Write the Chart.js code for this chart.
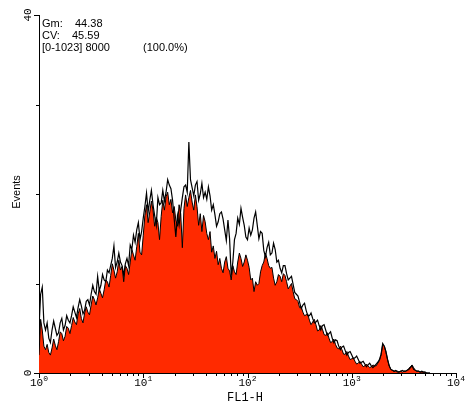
<!DOCTYPE html>
<html>
<head>
<meta charset="utf-8">
<script src="https://cdn.jsdelivr.net/npm/chart.js@4.4.0/dist/chart.umd.min.js"></script>
<style>
    body { margin: 0; background: #fff; }
    canvas { display: block; }
</style>
</head>
<body>
<canvas id="histChart" width="469" height="408"></canvas>
<script>
// FL1-H channel positions (0-1023 range, 256 channels per decade)
const channels = [
    0, 4, 8, 12, 16, 20, 24, 28, 32, 36,
    40, 44, 48, 52, 56, 60, 64, 68, 72, 76,
    80, 84, 88, 92, 96, 100, 104, 108, 112, 116,
    120, 124, 128, 132, 136, 140, 144, 148, 152, 156,
    160, 164, 168, 172, 176, 180, 184, 188, 192, 196,
    200, 204, 208, 212, 216, 220, 224, 228, 232, 236,
    240, 244, 248, 252, 256, 260, 264, 268, 272, 276,
    280, 284, 288, 292, 296, 300, 304, 308, 312, 316,
    320, 324, 328, 332, 336, 340, 344, 348, 352, 356,
    360, 364, 368, 372, 376, 380, 384, 388, 392, 396,
    400, 404, 408, 412, 416, 420, 424, 428, 432, 436,
    440, 444, 448, 452, 456, 460, 464, 468, 472, 476,
    480, 484, 488, 492, 496, 500, 504, 508, 512, 516,
    520, 524, 528, 532, 536, 540, 544, 548, 552, 556,
    560, 564, 568, 572, 576, 580, 584, 588, 592, 596,
    600, 604, 608, 612, 616, 620, 624, 628, 632, 636,
    640, 644, 648, 652, 656, 660, 664, 668, 672, 676,
    680, 684, 688, 692, 696, 700, 704, 708, 712, 716,
    720, 724, 728, 732, 736, 740, 744, 748, 752, 756,
    760, 764, 768, 772, 776, 780, 784, 788, 792, 796,
    800, 804, 808, 812, 816, 820, 824, 828, 832, 836,
    840, 844, 848, 852, 856, 860, 864, 868, 872, 876,
    880, 884, 888, 892, 896, 900, 904, 908, 912, 916,
    920, 924, 928, 932, 936, 940, 944, 948, 952, 956,
    960
];

// Filled (red) histogram, events per channel
const filledCounts = [
    2.0, 6.0, 4.8, 3.0, 2.6, 3.2, 2.3, 2.0, 2.8, 3.8,
    3.1, 2.6, 3.5, 4.6, 4.4, 3.6, 4.1, 5.2, 5.0, 4.4,
    5.3, 6.2, 5.7, 5.4, 6.6, 7.2, 6.1, 5.6, 6.7, 7.4,
    6.8, 6.5, 7.6, 8.6, 8.2, 7.6, 8.4, 9.4, 8.9, 8.4,
    9.3, 10.4, 10.2, 9.6, 10.9, 12.2, 11.5, 10.6, 11.3, 12.6,
    11.5, 11.9, 10.2, 12.0, 11.7, 11.0, 12.4, 13.8, 13.2, 12.6,
    14.1, 15.6, 13.5, 13.2, 15.4, 17.6, 18.8, 16.8, 18.0, 19.2,
    18.2, 16.4, 17.4, 16.8, 14.9, 17.5, 19.3, 18.2, 19.7, 20.2,
    18.8, 19.4, 17.9, 18.6, 17.1, 16.4, 18.8, 17.8, 14.0, 18.4,
    19.9, 18.6, 19.6, 20.4, 19.1, 18.2, 19.9, 18.6, 16.5, 17.8,
    15.8, 17.6, 16.9, 15.6, 14.9, 15.8, 13.5, 14.2, 12.8, 13.6,
    12.1, 12.8, 11.7, 11.2, 12.4, 13.0, 11.7, 11.4, 10.4, 12.0,
    11.3, 11.0, 12.4, 13.4, 12.8, 11.9, 12.4, 13.2, 12.6, 11.8,
    10.4, 10.6, 9.1, 10.2, 9.8, 10.0, 11.3, 12.0, 12.4, 13.4,
    12.8, 12.0, 11.7, 11.8, 10.6, 9.8, 10.2, 11.0, 10.8, 10.2,
    11.1, 10.9, 10.2, 9.4, 9.7, 10.0, 9.1, 8.3, 8.2, 8.0,
    7.3, 7.4, 6.8, 6.4, 6.5, 6.6, 5.9, 5.4, 5.7, 6.0,
    5.4, 4.7, 4.8, 5.3, 4.9, 4.3, 4.2, 4.5, 3.9, 3.4,
    3.5, 3.8, 3.2, 2.8, 2.7, 3.0, 2.6, 2.1, 2.1, 2.4,
    1.9, 1.5, 1.6, 1.7, 1.3, 1.0, 1.1, 1.3, 1.0, 0.7,
    0.8, 1.0, 0.8, 0.6, 0.7, 0.9, 0.8, 0.8, 1.1, 1.4,
    2.0, 3.2, 3.0, 2.3, 1.5, 0.8, 0.4, 0.3, 0.2, 0.2,
    0.1, 0.1, 0.2, 0.1, 0.2, 0.2, 0.3, 0.5, 0.7, 0.9,
    0.6, 0.3, 0.2, 0.2, 0.1, 0.1, 0.1, 0.1, 0, 0,
    0
];

// Overlay (black outline) histogram
const overlayCounts = [
    5.0, 8.8, 9.6, 5.6, 4.8, 5.6, 3.9, 3.4, 4.8, 5.8,
    5.0, 4.2, 4.5, 5.6, 6.1, 4.8, 5.3, 6.4, 5.9, 5.6,
    6.4, 7.4, 6.8, 6.2, 7.3, 8.2, 7.5, 6.6, 7.0, 8.0,
    8.2, 7.6, 8.8, 9.8, 9.1, 8.8, 10.8, 9.2, 9.8, 11.0,
    10.4, 10.2, 11.5, 11.2, 12.0, 12.8, 14.2, 11.8, 12.4, 13.4,
    12.4, 12.0, 10.9, 12.2, 12.8, 12.0, 14.3, 13.8, 15.4, 14.6,
    16.0, 16.8, 14.9, 15.8, 17.3, 18.6, 20.1, 18.0, 19.3, 20.4,
    18.8, 17.6, 16.5, 19.6, 18.8, 19.0, 20.4, 19.2, 20.2, 21.6,
    21.0, 20.6, 19.3, 17.2, 15.2, 17.6, 16.5, 18.2, 19.6, 20.8,
    21.0, 20.2, 25.8, 21.6, 20.7, 19.8, 21.0, 21.4, 19.3, 20.0,
    21.2, 19.6, 20.2, 19.4, 20.8, 19.8, 18.2, 18.8, 17.7, 16.4,
    16.9, 17.8, 18.0, 17.2, 16.0, 14.8, 17.1, 15.0, 10.9, 12.4,
    14.9, 15.6, 17.3, 16.6, 18.4, 17.4, 16.5, 15.2, 14.9, 16.2,
    15.4, 16.0, 17.3, 18.0, 16.5, 15.0, 15.8, 15.6, 13.7, 13.0,
    14.0, 14.6, 13.2, 13.4, 14.5, 13.8, 12.4, 12.6, 11.7, 11.2,
    12.0, 12.0, 11.1, 10.4, 10.6, 10.8, 9.9, 9.0, 8.8, 8.6,
    7.9, 7.2, 7.6, 7.8, 7.0, 6.4, 6.4, 6.7, 6.1, 5.6,
    5.7, 5.9, 5.3, 4.8, 5.3, 5.4, 4.8, 4.2, 4.4, 4.6,
    3.9, 3.4, 3.7, 3.6, 3.0, 2.6, 2.9, 3.0, 2.5, 2.0,
    2.3, 2.4, 2.0, 1.6, 1.7, 1.9, 1.5, 1.1, 1.2, 1.3,
    1.0, 0.7, 0.9, 1.1, 0.8, 0.6, 0.8, 1.0, 1.2, 1.5,
    2.1, 3.3, 3.0, 2.4, 1.5, 0.8, 0.4, 0.3, 0.2, 0.3,
    0.2, 0.1, 0.2, 0.3, 0.2, 0.2, 0.3, 0.4, 0.6, 0.8,
    0.4, 0.3, 0.2, 0.2, 0.1, 0.2, 0.1, 0.1, 0, 0,
    0
];

const CHANNELS_PER_DECADE = 256;
const decadeExponents = ['0', '1', '2', '3', '4'];
const yTickValues = [0, 10, 20, 30, 40];
const yLabelValues = [0, 40];

// Stats box text
const statsRows = [
    ['Gm:', '44.38'],
    ['CV:', '45.59'],
    ['[0-1023] 8000', '(100.0%)']
];

// Draws ticks, tick labels, axis titles and the stats text
const axisDecor = {
    id: 'axisDecor',
    afterDraw(chart) {
        const ctx = chart.ctx;
        const xs = chart.scales.x;
        const ys = chart.scales.y;
        const bottom = ys.getPixelForValue(0);
        const left = xs.getPixelForValue(0);

        ctx.save();
        ctx.strokeStyle = '#000';
        ctx.lineWidth = 1;
        ctx.beginPath();

        // x ticks, major at decades, minor at 2..9
        decadeExponents.forEach((e, i) => {
            const px = Math.round(xs.getPixelForValue(i * CHANNELS_PER_DECADE)) + 0.5;
            ctx.moveTo(px, bottom);
            ctx.lineTo(px, bottom + 5);
            if (i < decadeExponents.length - 1) {
                for (let k = 2; k <= 9; k++) {
                    const mx = Math.round(xs.getPixelForValue((i + Math.log10(k)) * CHANNELS_PER_DECADE)) + 0.5;
                    ctx.moveTo(mx, bottom);
                    ctx.lineTo(mx, bottom + 3);
                }
            }
        });

        // y ticks pointing left
        yTickValues.forEach(v => {
            const py = Math.round(ys.getPixelForValue(v)) + 0.5;
            const len = yLabelValues.includes(v) ? 5 : 3;
            ctx.moveTo(left - len, py);
            ctx.lineTo(left, py);
        });
        ctx.stroke();

        ctx.fillStyle = '#000';

        // x tick labels: 10 with superscript exponent
        decadeExponents.forEach((e, i) => {
            const px = xs.getPixelForValue(i * CHANNELS_PER_DECADE);
            ctx.font = '11px "Liberation Mono", monospace';
            const wBase = ctx.measureText('10').width;
            ctx.font = '8px "Liberation Mono", monospace';
            const wExp = ctx.measureText(e).width;
            const start = px - (wBase + wExp) / 2;
            ctx.textAlign = 'left';
            ctx.textBaseline = 'alphabetic';
            ctx.font = '11px "Liberation Mono", monospace';
            ctx.fillText('10', start, bottom + 13);
            ctx.font = '8px "Liberation Mono", monospace';
            ctx.fillText(e, start + wBase, bottom + 8);
        });

        // y tick labels, rotated
        ctx.font = '11px "Liberation Mono", monospace';
        ctx.textAlign = 'center';
        ctx.textBaseline = 'middle';
        yLabelValues.forEach(v => {
            const py = ys.getPixelForValue(v);
            ctx.save();
            ctx.translate(left - 11, py);
            ctx.rotate(-Math.PI / 2);
            ctx.fillText(String(v), 0, 0);
            ctx.restore();
        });

        // axis titles
        ctx.font = '11px "Liberation Sans", Arial, sans-serif';
        ctx.save();
        ctx.translate(17, 192);
        ctx.rotate(-Math.PI / 2);
        ctx.fillText('Events', 0, 0);
        ctx.restore();

        ctx.font = '12px "Liberation Mono", monospace';
        ctx.fillText('FL1-H', 245, bottom + 25);

        // stats text in the top-left corner
        ctx.font = '11px "Liberation Sans", Arial, sans-serif';
        ctx.textAlign = 'left';
        ctx.textBaseline = 'alphabetic';
        const valueX = [75, 72, 143];
        statsRows.forEach((row, i) => {
            const y = 27 + i * 12;
            ctx.fillText(row[0], 42, y);
            ctx.fillText(row[1], valueX[i], y);
        });
        ctx.restore();
    }
};

new Chart(document.getElementById('histChart'), {
    type: 'line',
    data: {
        datasets: [
            {
                label: 'Overlay',
                data: channels.map((c, i) => ({ x: c, y: overlayCounts[i] })),
                borderColor: '#000',
                borderWidth: 1.2,
                pointRadius: 0,
                fill: false,
                order: 0
            },
            {
                label: 'Sample',
                data: channels.map((c, i) => ({ x: c, y: filledCounts[i] })),
                borderColor: '#000',
                borderWidth: 1,
                backgroundColor: '#ff2a00',
                pointRadius: 0,
                fill: 'origin',
                order: 1
            }
        ]
    },
    options: {
        responsive: false,
        animation: false,
        devicePixelRatio: 1,
        layout: {
            padding: { left: 39, right: 13, top: 15, bottom: 35 }
        },
        plugins: {
            legend: { display: false },
            tooltip: { enabled: false }
        },
        scales: {
            x: {
                type: 'linear',
                min: 0,
                max: 1024,
                grid: { display: false, drawTicks: false },
                border: { color: '#000', width: 1 },
                ticks: { display: false }
            },
            y: {
                min: 0,
                max: 40,
                grid: { display: false, drawTicks: false },
                border: { color: '#000', width: 1 },
                ticks: { display: false }
            }
        }
    },
    plugins: [axisDecor]
});
</script>
</body>
</html>
